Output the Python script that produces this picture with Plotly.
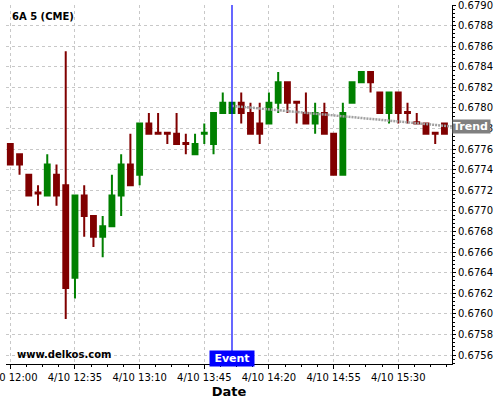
import plotly.graph_objects as go
import pandas as pd

# ---- data ----
start_time = "2025-04-10 12:00"
n_bars = 48
times = pd.date_range(start_time, periods=n_bars, freq="5min")

opens = [0.67765, 0.67755, 0.67735, 0.67718, 0.67715, 0.67735, 0.67725, 0.67635,
         0.67715, 0.67695, 0.67675, 0.67685, 0.67715, 0.67745, 0.67735, 0.67785,
         0.67776, 0.67776, 0.67775, 0.67766, 0.67755, 0.67775, 0.67765, 0.67795,
         0.67795, 0.67805, 0.67795, 0.67785, 0.67785, 0.67805, 0.67825, 0.67806,
         0.67795, 0.67785, 0.67795, 0.67775, 0.67735, 0.67805, 0.67825, 0.67835,
         0.67815, 0.67795, 0.67815, 0.67796, 0.67786, 0.67785, 0.67776, 0.67785]
highs = [0.67765, 0.67755, 0.67735, 0.67725, 0.67755, 0.67745, 0.67855, 0.67715,
         0.67725, 0.67695, 0.67695, 0.67735, 0.67755, 0.67775, 0.67785, 0.67795,
         0.67795, 0.67776, 0.67795, 0.67775, 0.67775, 0.67785, 0.67795, 0.67815,
         0.67805, 0.67815, 0.67805, 0.67805, 0.67815, 0.67835, 0.67825, 0.67806,
         0.67815, 0.67805, 0.67805, 0.67775, 0.67805, 0.67825, 0.67835, 0.67835,
         0.67815, 0.67815, 0.67815, 0.67805, 0.67795, 0.67785, 0.67776, 0.67785]
lows = [0.67745, 0.67735, 0.67715, 0.67705, 0.67715, 0.67705, 0.67595, 0.67615,
        0.67675, 0.67665, 0.67655, 0.67685, 0.67695, 0.67725, 0.67725, 0.67775,
        0.67775, 0.67765, 0.67765, 0.67755, 0.67755, 0.67765, 0.67755, 0.67795,
        0.67795, 0.67785, 0.67775, 0.67765, 0.67795, 0.67795, 0.67795, 0.67785,
        0.67785, 0.67775, 0.67775, 0.67735, 0.67735, 0.67805, 0.67825, 0.67815,
        0.67795, 0.67785, 0.67785, 0.67785, 0.67785, 0.67775, 0.67765, 0.67775]
closes = [0.67745, 0.67745, 0.67715, 0.67717, 0.67745, 0.67715, 0.67625, 0.67715,
          0.67695, 0.67675, 0.67685, 0.67715, 0.67745, 0.67725, 0.67785, 0.67775,
          0.67775, 0.67775, 0.67765, 0.67765, 0.67765, 0.67776, 0.67795, 0.67805,
          0.67805, 0.67795, 0.67775, 0.67775, 0.67805, 0.67825, 0.67805, 0.67805,
          0.67785, 0.67795, 0.67775, 0.67735, 0.67795, 0.67825, 0.67835, 0.67825,
          0.67795, 0.67815, 0.67795, 0.67795, 0.67785, 0.67775, 0.67775, 0.67775]

event_time = "2025-04-10 14:00"
trend_times = ["2025-04-10 14:00", "2025-04-10 15:59"]
trend_values = [0.67802, 0.67782]

x_range = ["2025-04-10 11:57:40", "2025-04-10 15:59:05"]
y_range = [0.675513, 0.6790]

RED = "#800000"
GREEN = "#008000"
FONT = "DejaVu Sans"

fig = go.Figure()

fig.add_trace(go.Candlestick(
    x=times, open=opens, high=highs, low=lows, close=closes,
    increasing=dict(line=dict(color=GREEN, width=2), fillcolor=GREEN),
    decreasing=dict(line=dict(color=RED, width=2), fillcolor=RED),
    whiskerwidth=0, showlegend=False, hoverinfo="skip",
))

fig.add_trace(go.Scatter(
    x=trend_times, y=trend_values, mode="lines",
    line=dict(color="#a0a0a0", width=2.5, dash="2px,1px"),
    showlegend=False, hoverinfo="skip",
))

# event line (anchored to the y axis so it spans the full plot height)
fig.add_shape(type="line", xref="x", yref="y", x0=event_time, x1=event_time,
              y0=y_range[0], y1=y_range[1], line=dict(color="#0000ff", width=1.2))

fig.add_annotation(x=event_time, xref="x", y=y_range[0], yref="y",
                   yanchor="top", yshift=14,
                   text="<b>Event</b>", showarrow=False,
                   font=dict(family=FONT, size=11, color="white"),
                   bgcolor="#0000ff", borderpad=1, width=42)

fig.add_annotation(x=1, xref="paper", y=trend_values[-1], yref="y",
                   xanchor="left", yanchor="middle",
                   text="<b>Trend</b>", showarrow=False,
                   font=dict(family=FONT, size=11, color="white"),
                   bgcolor="#808080", borderpad=0, width=37, align="left")

fig.add_annotation(x=0.01, xref="paper", y=y_range[1], yref="y",
                   xanchor="left", yanchor="top", yshift=-4, text="<b>6A 5 (CME)</b>",
                   showarrow=False, font=dict(family=FONT, size=10, color="black"))

fig.add_annotation(x=0.021, xref="paper", y=y_range[0], yref="y",
                   xanchor="left", yanchor="top", yshift=17, text="<b>www.delkos.com</b>",
                   showarrow=False, font=dict(family=FONT, size=10, color="black"))

fig.update_layout(
    width=500, height=400,
    margin=dict(l=6, r=48, t=5, b=36),
    paper_bgcolor="white", plot_bgcolor="white",
    font=dict(family=FONT, size=10, color="black"),
    boxgap=0.25,
    hovermode=False,
    xaxis=dict(
        type="date", range=x_range, rangeslider=dict(visible=False),
        automargin=False, ticklabeloverflow="allow",
        tick0="2025-04-10 12:00", dtick=35 * 60 * 1000,
        tickformat="%-m/%-d %H:%M",
        showgrid=True, gridcolor="#c8c8c8", griddash="3px,3px", gridwidth=1,
        showline=True, linecolor="black", linewidth=1,
        ticks="outside", ticklen=4, tickcolor="black",
        minor=dict(dtick=525000, tick0="2025-04-10 12:00", ticks="outside",
                   ticklen=2, tickcolor="black", showgrid=False),
        title=dict(text="<b>Date</b>", font=dict(family=FONT, size=13), standoff=4),
        zeroline=False,
    ),
    yaxis=dict(
        side="right", range=y_range, tick0=0.6790, dtick=0.0002,
        automargin=False, ticklabeloverflow="allow",
        tickformat=".4f",
        showgrid=True, gridcolor="#c8c8c8", griddash="3px,3px", gridwidth=1,
        showline=True, linecolor="black", linewidth=1,
        ticks="outside", ticklen=3, tickcolor="black",
        minor=dict(dtick=0.00004, ticks="outside", ticklen=2,
                   tickcolor="black", showgrid=False),
        zeroline=False,
    ),
)

fig.write_html(
    "out.html",
    config={"displayModeBar": False, "staticPlot": True, "responsive": False},
    post_script="document.body.style.margin='0';",
)
